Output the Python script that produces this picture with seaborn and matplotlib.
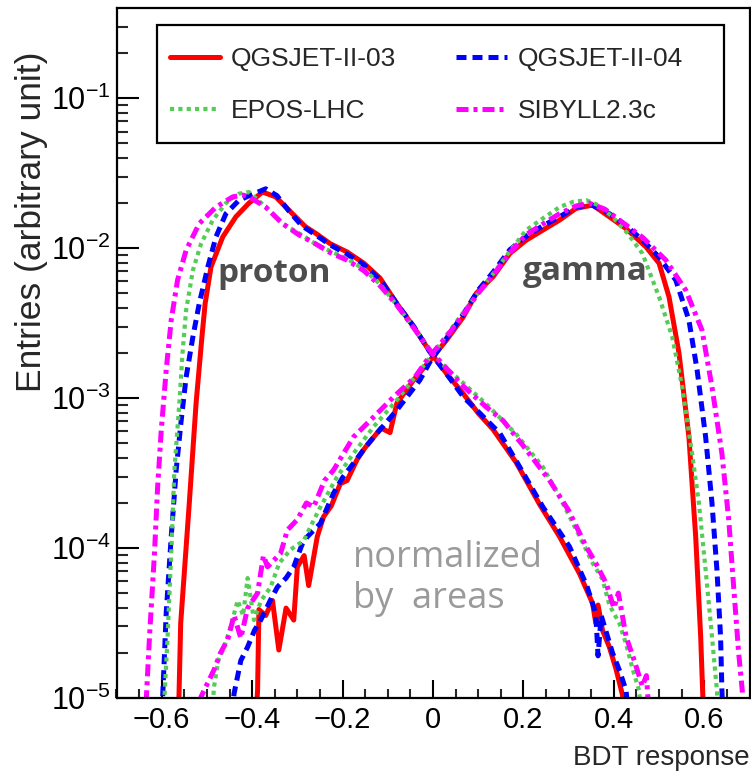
import matplotlib
matplotlib.use("Agg")
import matplotlib.pyplot as plt
from matplotlib.patches import Rectangle
from matplotlib.ticker import MultipleLocator, LogLocator, NullFormatter, FixedLocator, FixedFormatter
import seaborn as sns
import pandas as pd

# ---------------- data ----------------
# proton, QGSJET-II-03
p03_x = [-0.565, -0.562, -0.558, -0.539, -0.524, -0.511, -0.504, -0.491, -0.465, -0.436, -0.407, -0.377,
         -0.348, -0.311, -0.282, -0.26, -0.227, -0.19, -0.153, -0.117, -0.08, -0.043, -0.007, 0.03, 0.067,
         0.10, 0.133, 0.184, 0.236, 0.28, 0.324, 0.353, 0.36, 0.365, 0.375, 0.39, 0.405, 0.419, 0.428]
p03_y = [6.3e-6, 9.8e-6, 3.16e-5, 2.0e-4, 9.23e-4, 2.57e-3, 4.27e-3, 7.5e-3, 1.19e-2, 1.62e-2, 2.0e-2, 2.37e-2,
         2.2e-2, 1.7e-2, 1.39e-2, 1.26e-2, 1.07e-2, 9.44e-3, 7.94e-3, 6.31e-3, 4.27e-3, 2.99e-3, 2.04e-3, 1.46e-3, 1.07e-3,
         7.94e-4, 6.17e-4, 3.72e-4, 1.95e-4, 1.19e-4, 6.76e-5, 4.27e-5, 3.16e-5, 4.17e-5, 2.82e-5, 2.19e-5, 1.55e-5, 1.05e-5, 6.3e-6]
# gamma, QGSJET-II-03
g03_x = [-0.395, -0.388, -0.385, -0.37, -0.355, -0.341, -0.325, -0.308, -0.30, -0.285, -0.275, -0.256, -0.242,
         -0.225, -0.205, -0.19, -0.168, -0.15, -0.131, -0.115, -0.095, -0.08, -0.043, -0.007, 0.03, 0.067, 0.096,
         0.133, 0.17, 0.206, 0.243, 0.28, 0.316, 0.353, 0.39, 0.427, 0.471, 0.50, 0.522, 0.544, 0.566, 0.581,
         0.592, 0.597, 0.60]
g03_y = [5.0e-6, 1.12e-5, 3.89e-5, 3.55e-5, 4.47e-5, 2.09e-5, 3.98e-5, 3.31e-5, 7.5e-5, 8.91e-5, 5.62e-5, 1.19e-4, 1.62e-4,
         1.91e-4, 2.69e-4, 2.82e-4, 3.89e-4, 4.68e-4, 5.5e-4, 6.31e-4, 5.89e-4, 9.23e-4, 1.32e-3, 1.78e-3, 2.44e-3, 3.48e-3, 5.01e-3,
         6.46e-3, 9.23e-3, 1.13e-2, 1.32e-2, 1.54e-2, 1.84e-2, 1.94e-2, 1.62e-2, 1.35e-2, 1.02e-2, 7.94e-3, 4.73e-3, 2.0e-3, 5.5e-4, 1.19e-4,
         2.57e-5, 9.8e-6, 6.3e-6]
# proton, QGSJET-II-04
p04_x = [-0.603, -0.598, -0.59, -0.579, -0.568, -0.557, -0.546, -0.531, -0.517, -0.498, -0.48, -0.458, -0.429,
         -0.399, -0.37, -0.345, -0.32, -0.29, -0.26, -0.227, -0.19, -0.153, -0.117, -0.08, -0.043, -0.007, 0.03,
         0.067, 0.10, 0.148, 0.19, 0.243, 0.302, 0.34, 0.36, 0.365, 0.372, 0.397, 0.413, 0.427, 0.435]
p04_y = [6.3e-6, 1.0e-5, 3.72e-5, 1.19e-4, 3.31e-4, 7.08e-4, 1.38e-3, 2.57e-3, 4.27e-3, 7.5e-3, 1.19e-2, 1.7e-2, 2.09e-2,
         2.29e-2, 2.49e-2, 2.24e-2, 1.79e-2, 1.41e-2, 1.23e-2, 1.05e-2, 9.12e-3, 7.76e-3, 6.17e-3, 4.27e-3, 3.02e-3, 2.04e-3, 1.45e-3,
         1.02e-3, 8.13e-4, 5.82e-4, 3.55e-4, 1.88e-4, 1.02e-4, 5.62e-5, 3.67e-5, 1.91e-5, 3.55e-5, 2.0e-5, 1.51e-5, 1.12e-5, 6.3e-6]
# gamma, QGSJET-II-04
g04_x = [-0.447, -0.44, -0.425, -0.41, -0.395, -0.381, -0.36, -0.344, -0.325, -0.308, -0.29, -0.278, -0.249,
         -0.22, -0.20, -0.176, -0.15, -0.131, -0.08, -0.029, -0.007, 0.03, 0.067, 0.10, 0.133, 0.17, 0.206, 0.243,
         0.28, 0.316, 0.35, 0.39, 0.427, 0.465, 0.50, 0.537, 0.566, 0.584, 0.603, 0.617, 0.628, 0.636, 0.639, 0.642]
g04_y = [6.3e-6, 1.07e-5, 1.78e-5, 2.19e-5, 2.82e-5, 3.31e-5, 4.47e-5, 5.5e-5, 6.31e-5, 7.5e-5, 1.05e-4, 1.19e-4, 1.46e-4,
         2.32e-4, 2.95e-4, 3.67e-4, 4.68e-4, 5.5e-4, 8.32e-4, 1.32e-3, 1.74e-3, 2.51e-3, 3.63e-3, 5.25e-3, 6.92e-3, 9.77e-3, 1.2e-2, 1.41e-2,
         1.62e-2, 1.88e-2, 1.95e-2, 1.7e-2, 1.41e-2, 1.12e-2, 8.71e-3, 6.12e-3, 3.31e-3, 1.55e-3, 5.5e-4, 2.0e-4, 7.13e-5, 2.57e-5, 1.12e-5, 6.3e-6]
# proton, EPOS-LHC
pep_x = [-0.599, -0.594, -0.587, -0.579, -0.572, -0.561, -0.554, -0.546, -0.531, -0.513, -0.487, -0.458, -0.429,
         -0.407, -0.37, -0.333, -0.297, -0.26, -0.227, -0.19, -0.153, -0.117, -0.08, -0.043, -0.007, 0.03, 0.067,
         0.118, 0.184, 0.243, 0.28, 0.324, 0.353, 0.375, 0.39, 0.412, 0.428, 0.441, 0.456, 0.462]
pep_y = [6.3e-6, 1.0e-5, 2.57e-5, 9.23e-5, 3.31e-4, 9.23e-4, 2.0e-3, 3.86e-3, 7.13e-3, 1.07e-2, 1.54e-2, 2.0e-2, 2.31e-2,
         2.37e-2, 1.88e-2, 1.46e-2, 1.26e-2, 1.07e-2, 9.55e-3, 8.51e-3, 7.24e-3, 5.75e-3, 4.17e-3, 2.95e-3, 2.09e-3, 1.58e-3, 1.26e-3,
         9.12e-4, 5.75e-4, 3.47e-4, 2.19e-4, 1.2e-4, 7.94e-5, 6.17e-5, 4.17e-5, 3.16e-5, 2.24e-5, 1.58e-5, 1.12e-5, 6.3e-6]
# gamma, EPOS-LHC
gep_x = [-0.492, -0.484, -0.475, -0.462, -0.45, -0.432, -0.42, -0.41, -0.396, -0.38, -0.359, -0.34, -0.315,
         -0.286, -0.265, -0.249, -0.212, -0.176, -0.131, -0.08, -0.04, -0.007, 0.03, 0.074, 0.133, 0.17, 0.206,
         0.243, 0.28, 0.31, 0.339, 0.37, 0.40, 0.43, 0.463, 0.50, 0.529, 0.551, 0.573, 0.588, 0.603, 0.617, 0.628, 0.632]
gep_y = [6.3e-6, 1.2e-5, 1.78e-5, 2.19e-5, 2.82e-5, 4.47e-5, 3.55e-5, 6.31e-5, 3.31e-5, 4.47e-5, 5.5e-5, 7.94e-5, 9.77e-5,
         1.12e-4, 1.51e-4, 1.88e-4, 2.99e-4, 4.27e-4, 6.46e-4, 9.7e-4, 1.38e-3, 1.86e-3, 2.63e-3, 3.98e-3, 6.76e-3, 9.55e-3, 1.32e-2,
         1.58e-2, 1.88e-2, 2.04e-2, 2.09e-2, 1.91e-2, 1.58e-2, 1.26e-2, 9.23e-3, 4.73e-3, 2.57e-3, 1.19e-3, 4.27e-4, 2.0e-4, 7.13e-5, 2.57e-5, 1.12e-5, 6.3e-6]
# proton, SIBYLL2.3c
psb_x = [-0.641, -0.634, -0.627, -0.616, -0.609, -0.601, -0.59, -0.579, -0.565, -0.546, -0.517, -0.48, -0.443,
         -0.42, -0.407, -0.37, -0.333, -0.297, -0.26, -0.227, -0.19, -0.153, -0.117, -0.08, -0.043, -0.007, 0.03,
         0.067, 0.118, 0.155, 0.20, 0.258, 0.30, 0.339, 0.36, 0.383, 0.40, 0.41, 0.427, 0.445, 0.463, 0.472, 0.48]
psb_y = [6.3e-6, 1.0e-5, 2.57e-5, 9.23e-5, 2.57e-4, 6.12e-4, 1.55e-3, 3.31e-3, 6.12e-3, 9.7e-3, 1.46e-2, 1.88e-2, 2.2e-2,
         2.26e-2, 2.2e-2, 1.88e-2, 1.46e-2, 1.23e-2, 1.07e-2, 9.33e-3, 8.32e-3, 7.08e-3, 5.62e-3, 4.17e-3, 2.95e-3, 2.09e-3, 1.58e-3,
         1.2e-3, 8.71e-4, 7.08e-4, 4.79e-4, 2.82e-4, 1.78e-4, 1.02e-4, 7.94e-5, 5.82e-5, 3.98e-5, 5.01e-5, 2.57e-5, 1.78e-5, 1.2e-5, 1.41e-5, 6.3e-6]
# gamma, SIBYLL2.3c
gsb_x = [-0.522, -0.513, -0.484, -0.47, -0.454, -0.44, -0.425, -0.41, -0.388, -0.375, -0.366, -0.337, -0.322,
         -0.30, -0.28, -0.264, -0.24, -0.22, -0.176, -0.131, -0.087, -0.04, -0.007, 0.03, 0.07, 0.10, 0.133, 0.17,
         0.206, 0.243, 0.28, 0.316, 0.345, 0.38, 0.42, 0.465, 0.515, 0.559, 0.595, 0.617, 0.639, 0.654, 0.665,
         0.676, 0.684, 0.687]
gsb_y = [6.3e-6, 1.02e-5, 1.55e-5, 2.0e-5, 2.45e-5, 3.55e-5, 2.51e-5, 3.98e-5, 5.01e-5, 8.91e-5, 7.5e-5, 9.23e-5, 1.32e-4,
         1.55e-4, 2.0e-4, 1.88e-4, 2.82e-4, 3.31e-4, 5.5e-4, 7.5e-4, 1.02e-3, 1.38e-3, 1.91e-3, 2.57e-3, 3.72e-3, 5.01e-3, 6.61e-3, 9.33e-3,
         1.23e-2, 1.45e-2, 1.7e-2, 1.91e-2, 2.0e-2, 1.82e-2, 1.48e-2, 1.17e-2, 8.32e-3, 5.25e-3, 2.84e-3, 1.19e-3, 4.27e-4, 1.55e-4, 5.5e-5,
         2.0e-5, 1.12e-5, 6.3e-6]

model_labels = ["QGSJET-II-03", "QGSJET-II-04", "EPOS-LHC", "SIBYLL2.3c"]
x_ticks = [-0.6, -0.4, -0.2, 0.0, 0.2, 0.4, 0.6]
x_tick_labels = ["\u22120.6", "\u22120.4", "\u22120.2", "0", "0.2", "0.4", "0.6"]
y_ticks = [1e-5, 1e-4, 1e-3, 1e-2, 1e-1]
y_tick_labels = [r"$10^{-5}$", r"$10^{-4}$", r"$10^{-3}$", r"$10^{-2}$", r"$10^{-1}$"]

# ---------------- style ----------------
sns.set_style("ticks")
plt.rcParams["font.family"] = ["Liberation Sans", "DejaVu Sans"]
plt.rcParams["mathtext.fontset"] = "custom"
plt.rcParams["mathtext.rm"] = "Liberation Sans"
plt.rcParams["mathtext.it"] = "Liberation Sans:italic"
plt.rcParams["mathtext.bf"] = "Liberation Sans:bold"
plt.rcParams["axes.unicode_minus"] = True

W, H = 751, 778
fig = plt.figure(figsize=(W / 100, H / 100), dpi=100)
ax_l, ax_r, ax_b, ax_t = 116.5, 749.5, 698.0, 8.3
ax = fig.add_axes([ax_l / W, (H - ax_b) / H, (ax_r - ax_l) / W, (ax_b - ax_t) / H])

styles = [
    dict(color="#ff0000", lw=3.6, ls="-"),
    dict(color="#0000ff", lw=3.6, ls=(0, (2.0, 1.2))),
    dict(color="#55cc55", lw=3.0, ls=(0, (1.0, 1.0))),
    dict(color="#ff00ff", lw=3.6, ls=(0, (2.4, 1.0, 0.8, 1.0))),
]
curves = [(p03_x, p03_y, g03_x, g03_y), (p04_x, p04_y, g04_x, g04_y),
          (pep_x, pep_y, gep_x, gep_y), (psb_x, psb_y, gsb_x, gsb_y)]

for (px, py, gx, gy), st, lab in zip(curves, styles, model_labels):
    dp = pd.DataFrame({"x": px, "y": py})
    dg = pd.DataFrame({"x": gx, "y": gy})
    sns.lineplot(data=dp, x="x", y="y", ax=ax, sort=False, estimator=None, color=st["color"],
                 linewidth=st["lw"], linestyle=st["ls"], label=lab, legend=False)
    sns.lineplot(data=dg, x="x", y="y", ax=ax, sort=False, estimator=None, color=st["color"],
                 linewidth=st["lw"], linestyle=st["ls"], legend=False)

ax.set_yscale("log")
ax.set_xlim(-0.7, 0.7)
ax.set_ylim(1e-5, 10 ** -0.4)

ax.xaxis.set_major_locator(FixedLocator(x_ticks))
ax.xaxis.set_major_formatter(FixedFormatter(x_tick_labels))
ax.xaxis.set_minor_locator(MultipleLocator(0.05))
ax.yaxis.set_major_locator(FixedLocator(y_ticks))
ax.yaxis.set_major_formatter(FixedFormatter(y_tick_labels))
ax.yaxis.set_minor_locator(LogLocator(base=10, subs=range(2, 10), numticks=20))
ax.yaxis.set_minor_formatter(NullFormatter())

for s in ax.spines.values():
    s.set_linewidth(1.6)
    s.set_color("black")
    s.set_visible(True)

ax.tick_params(axis="x", which="major", direction="in", length=13, width=1.5, labelsize=21, pad=6,
               top=False, colors="black")
ax.tick_params(axis="x", which="minor", direction="in", length=6.5, width=1.5, top=False)
ax.tick_params(axis="y", which="major", direction="in", length=16, width=1.5, labelsize=22, pad=4,
               right=False, colors="black")
ax.tick_params(axis="y", which="minor", direction="in", length=8, width=1.5, right=False)

ax.set_xlabel("BDT response", fontsize=20, loc="right")
ax.xaxis.set_label_coords(1.0, -0.068)
ax.set_ylabel("Entries (arbitrary unit)", fontsize=25.5)
ax.yaxis.set_label_coords(-0.108, 0.691)

# legend frame + legend (row-wise order like the reference)
ax.add_patch(Rectangle((0.0639, 0.8047), 0.8966, 0.171, transform=ax.transAxes,
                       facecolor="white", edgecolor="black", linewidth=1.6, zorder=4))
handles, labels = ax.get_legend_handles_labels()
order = [0, 2, 1, 3]
leg = ax.legend([handles[i] for i in order], [labels[i] for i in order], ncol=2, loc="upper left",
                bbox_to_anchor=(0.0845, 0.944), frameon=False,
                prop=dict(size=19), handlelength=1.9, handletextpad=0.42,
                columnspacing=2.27, labelspacing=1.08, borderpad=0.0, borderaxespad=0.0)
leg.set_zorder(5)

# annotations
txt_kw = dict(transform=ax.transAxes, family=["Open Sans", "DejaVu Sans"])
ax.text(0.160, 0.603, "proton", fontsize=24, fontweight="bold", color="#4d4d4d",
        ha="left", va="baseline", **txt_kw)
ax.text(0.642, 0.606, "gamma", fontsize=24, fontweight="bold", color="#4d4d4d",
        ha="left", va="baseline", **txt_kw)
ax.text(0.373, 0.190, "normalized", fontsize=26, color="#9a9a9a", ha="left", va="baseline", **txt_kw)
ax.text(0.373, 0.1305, "by  areas", fontsize=26, color="#9a9a9a", ha="left", va="baseline", **txt_kw)

fig.savefig("out.png", dpi=100)
